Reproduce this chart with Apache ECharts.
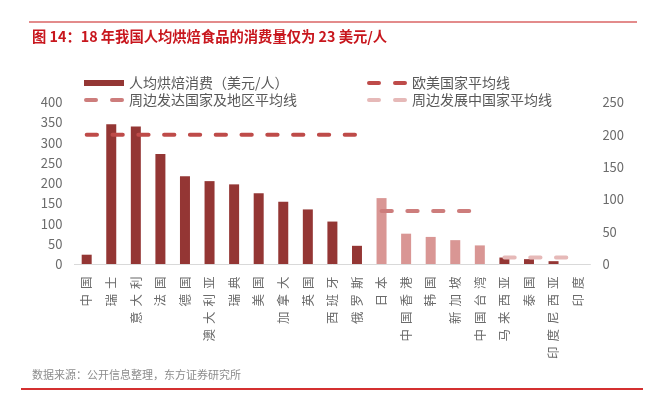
<!DOCTYPE html>
<html>
<head>
<meta charset="utf-8">
<script src="https://cdn.jsdelivr.net/npm/echarts@6/dist/echarts.min.js"></script>
<style>
  html, body { margin: 0; padding: 0; background: #fff; }
  #chart { width: 661px; height: 397px; }
</style>
</head>
<body>
<div id="chart"></div>
<script>
// 国家/地区
const categories = ['中国', '瑞士', '意大利', '法国', '德国', '澳大利亚', '瑞典', '美国', '加拿大', '英国', '西班牙', '俄罗斯',
  '日本', '中国香港', '韩国', '新加坡', '中国台湾', '马来西亚', '泰国', '印度尼西亚', '印度']
// 人均烘焙消费（美元/人），左轴
const consumption = [23, 346, 340, 272, 217, 205, 197, 175, 154, 135, 105, 45,
  163, 75, 67, 59, 46, 16, 12, 7, 0]
// 周边发达国家及地区（浅色柱）的下标
const pinkIdx = [12, 13, 14, 15, 16]
// 平均线，右轴；'-' 表示该处不画
const westAvg = [200, 200, 200, 200, 200, 200, 200, 200, 200, 200, 200, 200, '-', '-', '-', '-', '-', '-', '-', '-', '-']
const devAvg = ['-', '-', '-', '-', '-', '-', '-', '-', '-', '-', '-', '-', 82, 82, 82, 82, 82, '-', '-', '-', '-']
const devingAvg = ['-', '-', '-', '-', '-', '-', '-', '-', '-', '-', '-', '-', '-', '-', '-', '-', '-', 10, 10, 10, 10]

const leftTicks = { min: 0, max: 400, interval: 50 }
const rightTicks = { min: 0, max: 250, interval: 50 }

const font = 'Noto Sans CJK SC'
const dark = '#943634'
const pink = '#D99694'
// 图例里的两段虚线
const dashIcon = 'path://M2,0h10a2,2 0 0 1 0,4h-10a2,2 0 0 1 0,-4z M28,0h10a2,2 0 0 1 0,4h-10a2,2 0 0 1 0,-4z'

let myechart = echarts.init(document.getElementById('chart'), null, { renderer: 'canvas' })

function dashLine(name, data, color) {
  return {
    name: name,
    type: 'line',
    yAxisIndex: 1,
    data: data,
    showSymbol: false,
    symbol: 'none',
    silent: true,
    lineStyle: { color: color, width: 4, type: [10.3, 15.5], cap: 'round' },
    itemStyle: { color: color }
  }
}

function legendItem(name, left, top, isBar) {
  return {
    left: left, top: top,
    itemWidth: 40, itemHeight: isBar ? 6 : 4,
    textStyle: { color: '#595959', fontSize: 14, fontFamily: font },
    data: [isBar ? { name: name, icon: 'rect' } : { name: name, icon: dashIcon }]
  }
}

let option = {
  animation: false,
  textStyle: { fontFamily: font },
  title: [
    {
      text: '图 14：18 年我国人均烘焙食品的消费量仅为 23 美元/人',
      left: 32, top: 29, padding: 0,
      textStyle: { color: '#C8161D', fontSize: 14.3, fontWeight: 'bold', fontFamily: font }
    },
    {
      text: '数据来源：公开信息整理，东方证券研究所',
      left: 32, top: 369, padding: 0,
      textStyle: { color: '#8c8c8c', fontSize: 11, fontWeight: 'normal', fontFamily: font }
    }
  ],
  graphic: [
    { type: 'rect', shape: { x: 29, y: 21, width: 608, height: 2 }, style: { fill: '#E38B8B' } },
    { type: 'rect', shape: { x: 21, y: 388, width: 622, height: 2 }, style: { fill: '#D43030' } }
  ],
  legend: [
    legendItem('人均烘焙消费（美元/人）', 79, 71, true),
    legendItem('周边发达国家及地区平均线', 79, 88, false),
    legendItem('欧美国家平均线', 362, 71, false),
    legendItem('周边发展中国家平均线', 362, 88, false)
  ],
  grid: { left: 74.4, right: 70.6, top: 102.3, bottom: 133, containLabel: false },
  xAxis: {
    type: 'category',
    data: categories,
    axisLine: { show: true, lineStyle: { color: '#d9d9d9', width: 1 } },
    axisTick: { show: false },
    axisLabel: {
      interval: 0, margin: 10, rotate: 90,
      color: '#6b6b6b', fontSize: 12.5, fontFamily: font,
      formatter: v => v.split('').map(c => '{c|' + c + '}').join(''),
      rich: {
        c: { color: '#6b6b6b', fontSize: 12.5, fontFamily: font, padding: [0, 2.5, 0, 2.5] }
      }
    }
  },
  yAxis: [
    {
      type: 'value', min: leftTicks.min, max: leftTicks.max, interval: leftTicks.interval,
      axisLine: { show: false }, axisTick: { show: false }, splitLine: { show: false },
      axisLabel: { margin: 12, color: '#6b6b6b', fontSize: 13, fontFamily: font }
    },
    {
      type: 'value', min: rightTicks.min, max: rightTicks.max, interval: rightTicks.interval,
      axisLine: { show: false }, axisTick: { show: false }, splitLine: { show: false },
      axisLabel: { margin: 12, color: '#6b6b6b', fontSize: 13, fontFamily: font }
    }
  ],
  series: [
    {
      name: '人均烘焙消费（美元/人）',
      type: 'bar',
      barWidth: 10,
      data: consumption.map((v, i) => ({
        value: v,
        itemStyle: { color: pinkIdx.includes(i) ? pink : dark }
      })),
      itemStyle: { color: dark }
    },
    dashLine('欧美国家平均线', westAvg, '#BE4B49'),
    dashLine('周边发达国家及地区平均线', devAvg, '#CD7D7C'),
    dashLine('周边发展中国家平均线', devingAvg, '#E6B9B8')
  ]
}

option && myechart.setOption(option)
</script>
</body>
</html>
